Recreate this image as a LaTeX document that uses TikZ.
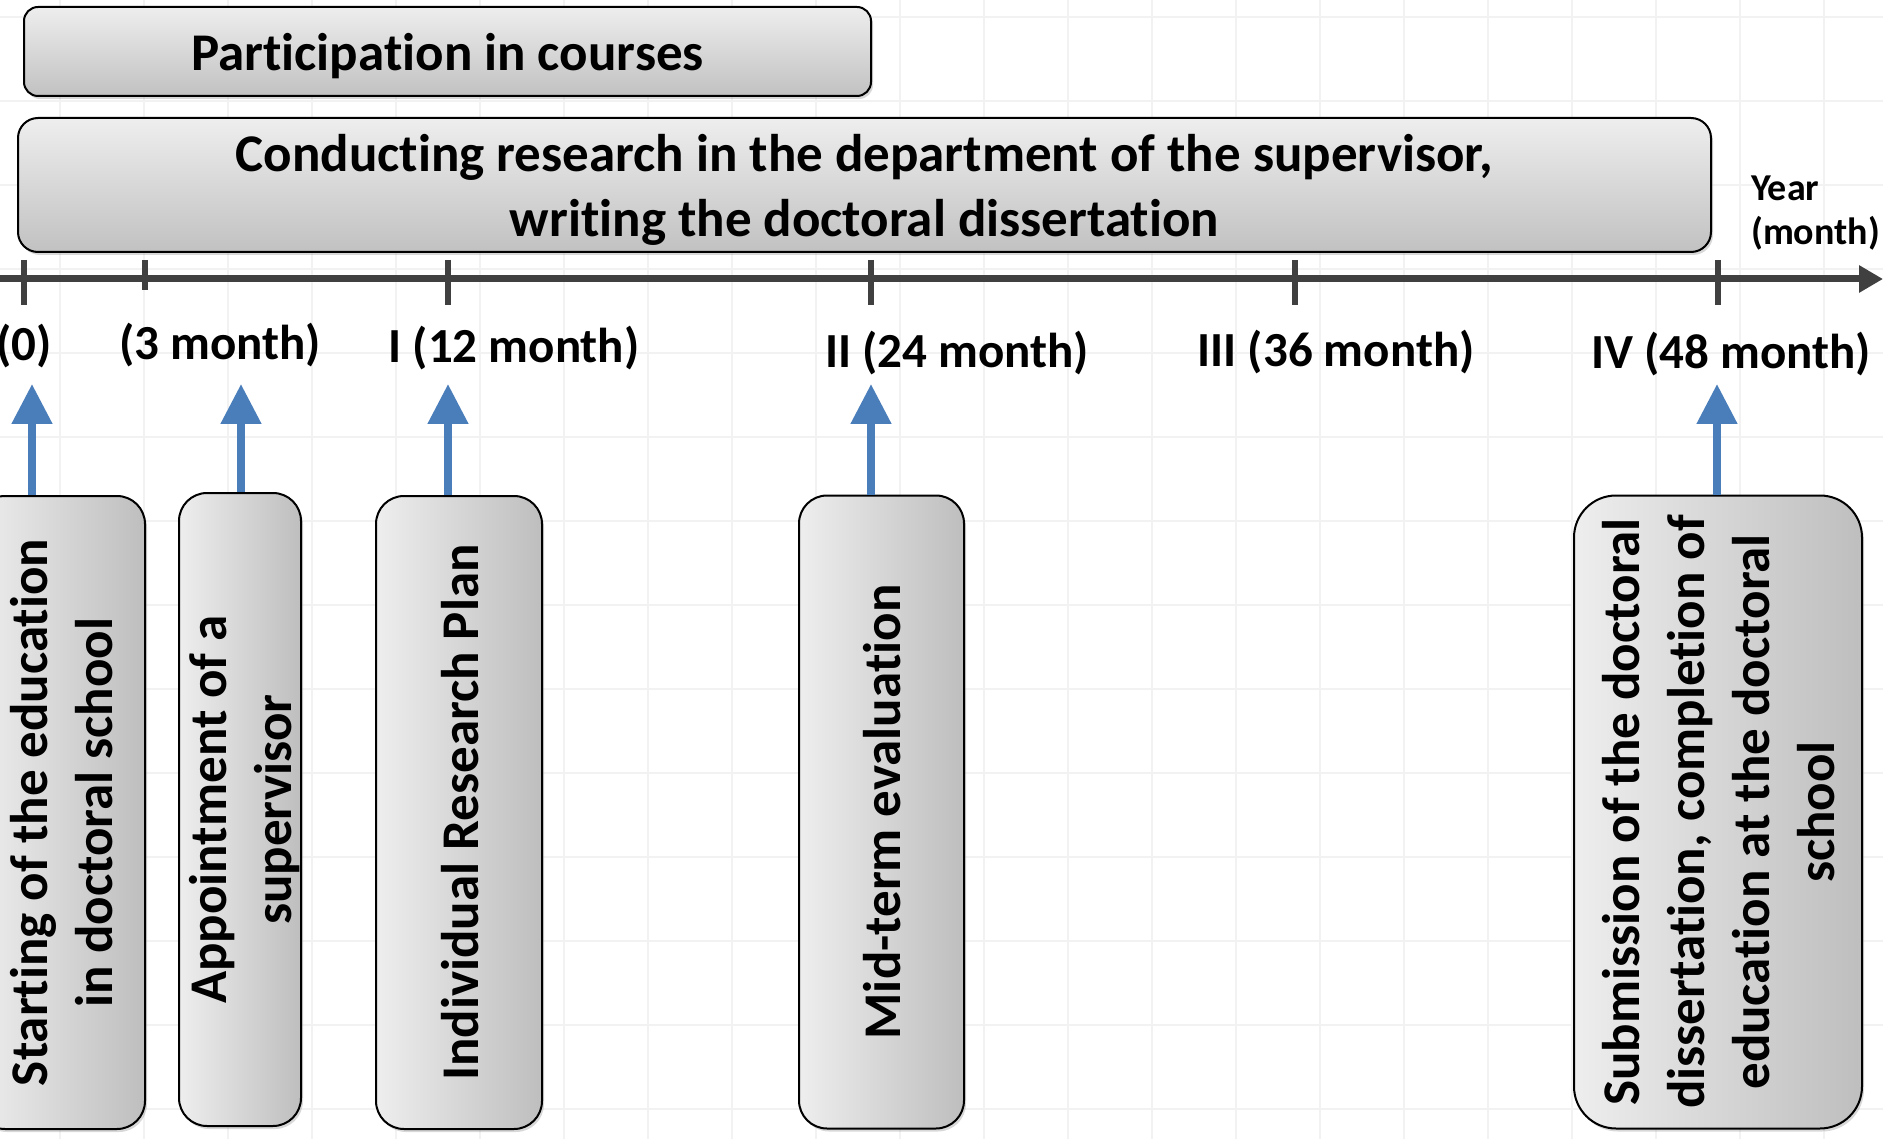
\documentclass[tikz,border=0pt]{standalone}
\usepackage{fontspec}
\setmainfont{Carlito}[Ligatures=CommonOff]
\usetikzlibrary{arrows.meta,shadows}

\definecolor{boxlight}{RGB}{238,238,238}
\definecolor{boxdark}{RGB}{190,190,190}
\definecolor{axisgray}{RGB}{64,64,64}
\definecolor{eventblue}{RGB}{74,126,187}
\definecolor{gridgray}{RGB}{242,242,242}

\newcommand{\vlabel}[1]{\makebox[0pt]{\hspace{12pt}\rotatebox{90}{\begin{tabular}{@{}c@{}}#1\end{tabular}}}}

\tikzset{
  phasebox/.style={draw=black, line width=2pt, top color=boxlight, bottom color=boxdark!95!white,
    align=center, inner sep=0pt, text depth=0pt, font=\fontsize{53}{65}\selectfont\bfseries,
    drop shadow={shadow xshift=2pt, shadow yshift=-3pt, opacity=0.3}},
  eventbox/.style={draw=black, line width=2pt, left color=boxlight, right color=boxdark,
    rounded corners=28pt, minimum height=633pt, inner sep=0pt, font=\fontsize{53}{65}\selectfont\bfseries,
    drop shadow={shadow xshift=2pt, shadow yshift=-3pt, opacity=0.3}},
  monthlabel/.style={font=\fontsize{49}{58}\selectfont\bfseries, inner sep=0pt},
  axisline/.style={axisgray, line width=7pt, -{Triangle[width=26pt,length=24pt]}},
  axistick/.style={axisgray, line width=6pt},
  evarrow/.style={eventblue, line width=8pt, -{Triangle[width=39pt,length=40pt]}},
  gridline/.style={gridgray, line width=2pt}
}

\begin{document}
\begin{tikzpicture}[x=1pt,y=-1pt]
    \useasboundingbox (0,0) rectangle (1883,1139);
    \fill[white] (0,0) rectangle (1883,1139);
    \foreach \gx in {60,144,...,1883} \draw[gridline] (\gx,0) -- (\gx,1139);
    \foreach \gy in {17,101,...,1139} \draw[gridline] (0,\gy) -- (1883,\gy);

    \node[phasebox, rounded corners=14pt, minimum width=847pt, minimum height=89pt] (courses) at (447.5,51.5) {Participation in courses};
    \node[phasebox, rounded corners=20pt, minimum width=1693pt, minimum height=134pt] (research) at (864.5,185) {Conducting research in the department of the supervisor,\\writing the doctoral dissertation};

    \coordinate (axisstart) at (0,279);
    \coordinate (axisend) at (1883,279);
    \coordinate (t0) at (24,279);
    \coordinate (t3) at (145,279);
    \coordinate (t12) at (448,279);
    \coordinate (t24) at (871,279);
    \coordinate (t36) at (1295,279);
    \coordinate (t48) at (1718,279);

    \draw[axisline] (axisstart) -- (axisend);
    \foreach \t in {t0,t12,t24,t36,t48} \draw[axistick] (\t) ++(0,-19) -- ++(0,45);
    \draw[axistick] (t3) ++(0,-19) -- ++(0,30);

    \node[monthlabel] (m0) at (24,346) {(0)};
    \node[monthlabel] (m3) at (220,345) {(3 month)};
    \node[monthlabel] (m12) at (514,348) {I (12 month)};
    \node[monthlabel] (m24) at (957,353) {II (24 month)};
    \node[monthlabel] (m36) at (1336,352) {III (36 month)};
    \node[monthlabel] (m48) at (1731,354) {IV (48 month)};
    \node[anchor=west, align=left, inner sep=0pt, font=\fontsize{38}{44}\selectfont\bfseries] (year) at (1751,213) {Year\\(month)};

    \node[eventbox, minimum width=168pt] (start) at (61,812.5) {\vlabel{Starting of the education\\in doctoral school}};
    \node[eventbox, minimum width=122pt] (appoint) at (240,809.5) {\vlabel{Appointment of a\\supervisor}};
    \node[eventbox, minimum width=166pt] (plan) at (459,812.5) {\vlabel{Individual Research Plan}};
    \node[eventbox, minimum width=165pt] (midterm) at (881.5,812) {\vlabel{Mid-term evaluation}};
    \node[eventbox, rounded corners=42pt, minimum width=288pt] (submit) at (1718,812) {\vlabel{Submission of the doctoral\\dissertation, completion of\\education at the doctoral\\school}};

    \coordinate (p0) at (32,384);
    \coordinate (p3) at (241,384);
    \coordinate (p12) at (448,384);
    \coordinate (p24) at (871,384);
    \coordinate (p48) at (1717,384);

    \draw[evarrow] (start.north -| p0) -- (p0);
    \draw[evarrow] (appoint.north -| p3) -- (p3);
    \draw[evarrow] (plan.north -| p12) -- (p12);
    \draw[evarrow] (midterm.north -| p24) -- (p24);
    \draw[evarrow] (submit.north -| p48) -- (p48);
\end{tikzpicture}
\end{document}
